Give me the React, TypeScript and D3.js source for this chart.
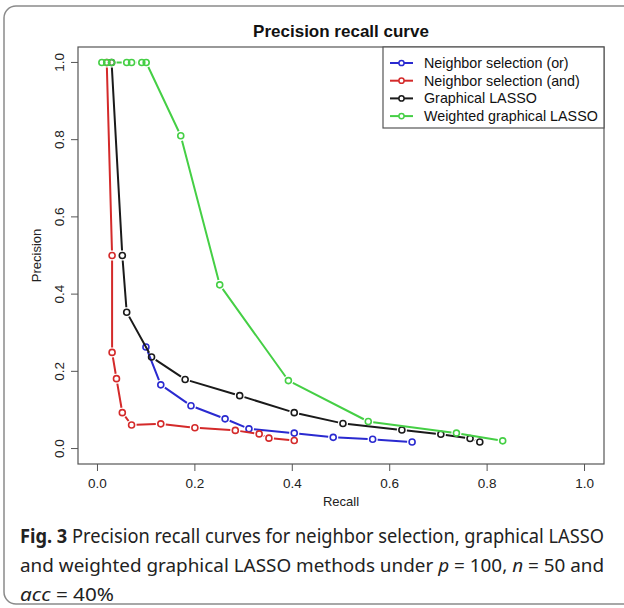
import React, { useLayoutEffect, useRef } from 'react';
import * as d3 from 'd3';

// recall / precision
const orRecall = [0.0995, 0.13, 0.192, 0.262, 0.311, 0.404, 0.484, 0.565, 0.646];
const orPrecision = [0.263, 0.165, 0.111, 0.077, 0.051, 0.04, 0.029, 0.024, 0.017];

const andRecall = [0.019, 0.03, 0.03, 0.039, 0.051, 0.07, 0.13, 0.2, 0.283, 0.332, 0.352, 0.404];
const andPrecision = [1.0, 0.5, 0.249, 0.181, 0.093, 0.061, 0.064, 0.054, 0.047, 0.038, 0.027, 0.021];

const glRecall = [0.029, 0.051, 0.06, 0.111, 0.18, 0.292, 0.404, 0.504, 0.625, 0.705, 0.765, 0.785];
const glPrecision = [1.0, 0.5, 0.353, 0.237, 0.179, 0.137, 0.093, 0.065, 0.048, 0.037, 0.026, 0.017];

const wglRecall = [0.009, 0.019, 0.029, 0.06, 0.07, 0.091, 0.1, 0.171, 0.251, 0.392, 0.556, 0.737, 0.832];
const wglPrecision = [1.0, 1.0, 1.0, 1.0, 1.0, 1.0, 1.0, 0.81, 0.424, 0.176, 0.07, 0.04, 0.02];

const seriesNames = ['Neighbor selection (or)', 'Neighbor selection (and)', 'Graphical LASSO', 'Weighted graphical LASSO'];
const seriesColors = ['#2a2ad0', '#d42a2a', '#1a1a1a', '#45cf45'];
const tickValues = [0, 0.2, 0.4, 0.6, 0.8, 1.0];

const plot = { left: 78, right: 604, top: 47, bottom: 464 };

const App = () => {
  const capRefs = useRef<(SVGTextElement | null)[]>([]);
  const capWidths = [584, 584, 94];

  // squeeze caption lines to the reference's narrow typeface width
  useLayoutEffect(() => {
    capRefs.current.forEach((el, i) => {
      if (!el) return;
      const w = el.getComputedTextLength();
      const g = el.parentNode as SVGGElement;
      const t = g.getAttribute('data-y');
      g.setAttribute('transform', `translate(20,${t}) scale(${capWidths[i] / w},1)`);
    });
  }, []);

  // R style: axis range padded 4% each side
  const x = d3.scaleLinear().domain([-0.04, 1.04]).range([plot.left, plot.right]);
  const y = d3.scaleLinear().domain([-0.04, 1.04]).range([plot.bottom, plot.top]);

  const series = [
    { r: orRecall, p: orPrecision },
    { r: andRecall, p: andPrecision },
    { r: glRecall, p: glPrecision },
    { r: wglRecall, p: wglPrecision },
  ].map((s, i) => ({
    name: seriesNames[i],
    color: seriesColors[i],
    pts: s.r.map((r, j) => [x(r), y(s.p[j])] as [number, number]),
  }));

  // type="b": segments stop short of the points
  const gap = 5;
  const segments = (pts: [number, number][]) => {
    const out: string[] = [];
    for (let i = 0; i < pts.length - 1; i++) {
      const [x0, y0] = pts[i];
      const [x1, y1] = pts[i + 1];
      const len = Math.hypot(x1 - x0, y1 - y0);
      if (len <= gap * 2) continue;
      const ux = (x1 - x0) / len, uy = (y1 - y0) / len;
      out.push(`M${x0 + ux * gap},${y0 + uy * gap}L${x1 - ux * gap},${y1 - uy * gap}`);
    }
    return out.join('');
  };

  const axisFont = 'Liberation Sans, Arial, sans-serif';
  const capFont = 'Noto Sans, Open Sans, sans-serif';
  const capY = [543, 572, 601];

  return (
    <svg width={624} height={608} style={{ position: 'absolute', left: 0, top: 0, background: '#fff' }}>
      <rect x={4} y={6} width={660} height={598} rx={12} fill="#fff" stroke="#8a8a8a" strokeWidth={1.5} />

      <text x={(plot.left + plot.right) / 2} y={37} textAnchor="middle" fontFamily={axisFont} fontWeight="bold" fontSize={17} fill="#111">
        Precision recall curve
      </text>

      <rect x={plot.left} y={plot.top} width={plot.right - plot.left} height={plot.bottom - plot.top} fill="none" stroke="#555" strokeWidth={1.2} />

      {tickValues.map(t => (
        <g key={'x' + t}>
          <line x1={x(t)} x2={x(t)} y1={plot.bottom} y2={plot.bottom + 7} stroke="#555" strokeWidth={1} />
          <text x={x(t)} y={plot.bottom + 24} textAnchor="middle" fontFamily={axisFont} fontSize={13.5} fill="#222">
            {t.toFixed(1)}
          </text>
        </g>
      ))}
      {tickValues.map(t => (
        <g key={'y' + t}>
          <line x1={plot.left - 7} x2={plot.left} y1={y(t)} y2={y(t)} stroke="#555" strokeWidth={1} />
          <text transform={`translate(${plot.left - 14},${y(t)}) rotate(-90)`} textAnchor="middle" fontFamily={axisFont} fontSize={13.5} fill="#222">
            {t.toFixed(1)}
          </text>
        </g>
      ))}

      <text x={(plot.left + plot.right) / 2} y={506} textAnchor="middle" fontFamily={axisFont} fontSize={13} fill="#222">Recall</text>
      <text transform={`translate(41,${(plot.top + plot.bottom) / 2}) rotate(-90)`} textAnchor="middle" fontFamily={axisFont} fontSize={13} fill="#222">Precision</text>

      {series.map(s => (
        <g key={s.name}>
          <path d={segments(s.pts)} stroke={s.color} strokeWidth={2} fill="none" />
          {s.pts.map((p, j) => (
            <circle key={j} cx={p[0]} cy={p[1]} r={3} fill="none" stroke={s.color} strokeWidth={1.6} />
          ))}
        </g>
      ))}

      <rect x={383} y={plot.top} width={plot.right - 383} height={81} fill="#fff" stroke="#555" strokeWidth={1.2} />
      {series.map((s, i) => {
        const ly = 63 + i * 17.7;
        return (
          <g key={'lg' + i}>
            <line x1={390} x2={413} y1={ly} y2={ly} stroke={s.color} strokeWidth={2} />
            <circle cx={401.5} cy={ly} r={2.6} fill="#fff" stroke={s.color} strokeWidth={1.5} />
            <text x={424} y={ly + 5} fontFamily={axisFont} fontSize={14.3} fill="#111">{s.name}</text>
          </g>
        );
      })}

      <g data-y={capY[0]} transform={`translate(20,${capY[0]}) scale(0.84,1)`}>
        <text ref={el => { capRefs.current[0] = el; }} x={0} y={0} fontFamily={capFont} fontSize={19} fill="#222">
          <tspan fontWeight="bold">Fig. 3</tspan> Precision recall curves for neighbor selection, graphical LASSO
        </text>
      </g>
      <g data-y={capY[1]} transform={`translate(20,${capY[1]}) scale(0.84,1)`}>
        <text ref={el => { capRefs.current[1] = el; }} x={0} y={0} fontFamily={capFont} fontSize={19} fill="#222">
          and weighted graphical LASSO methods under <tspan fontStyle="italic">p</tspan> = 100, <tspan fontStyle="italic">n</tspan> = 50 and
        </text>
      </g>
      <g data-y={capY[2]} transform={`translate(20,${capY[2]}) scale(0.84,1)`}>
        <text ref={el => { capRefs.current[2] = el; }} x={0} y={0} fontFamily={capFont} fontSize={19} fill="#222">
          <tspan fontStyle="italic">acc</tspan> = 40%
        </text>
      </g>
    </svg>
  );
};

export default App;
